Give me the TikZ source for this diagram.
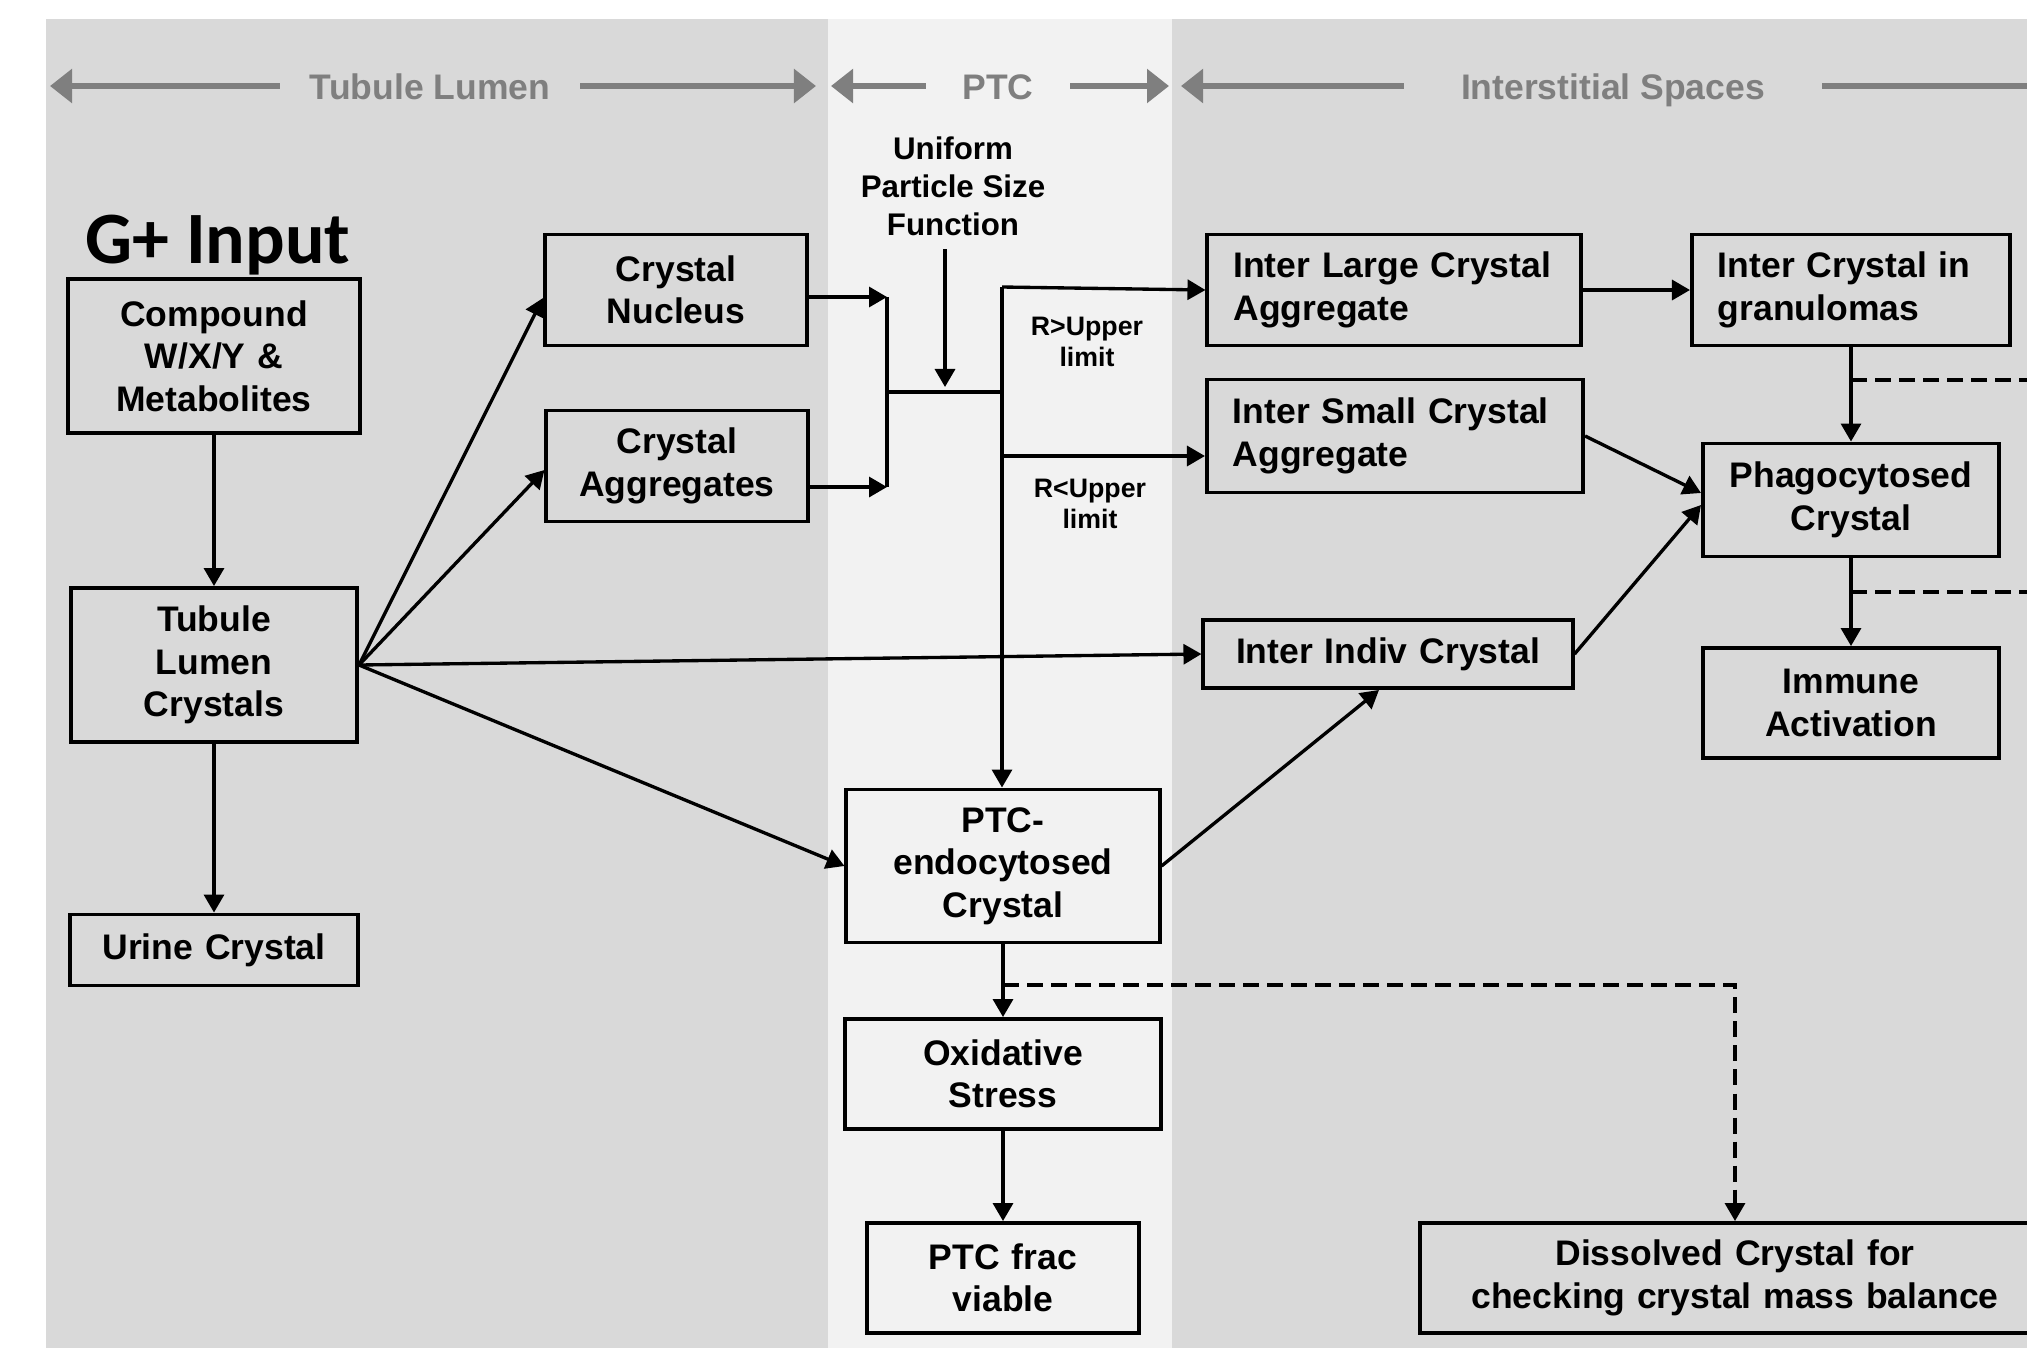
\documentclass[tikz,border=0pt]{standalone}
\usepackage{fontspec}
\setmainfont{Liberation Sans}
\newfontfamily\gfont{Carlito}
\usetikzlibrary{arrows.meta}
\definecolor{bandgray}{HTML}{D9D9D9}
\definecolor{ptcgray}{HTML}{F2F2F2}
\definecolor{hdrgray}{HTML}{7F7F7F}
\begin{document}
\begin{tikzpicture}[x=0.01cm, y=-0.01cm,
  font=\fontsize{10.1}{12.1}\selectfont\bfseries,
  box/.style={draw, line width=1.1pt, inner sep=0pt, align=center},
  boxl/.style={box, align=left, inner xsep=0.26cm},
  wire/.style={line width=0.95pt},
  flow/.style={wire, -{Triangle[length=1.8mm, width=2mm]}},
  dwire/.style={wire, dash pattern=on 1.6mm off 0.8mm},
  dflow/.style={dwire, -{Triangle[length=1.8mm, width=2mm]}},
  hdr/.style={text=hdrgray, inner ysep=0pt, text height=0.3cm, text depth=0.04cm},
  harr/.style={draw=hdrgray, line width=1.7pt, -{Triangle[length=2.2mm, width=3.3mm]}},
  cond/.style={font=\fontsize{7.6}{9}\selectfont\bfseries, align=center}]
  % page and compartments
  \clip (0,0) rectangle (2027,1348);
  \fill[white] (0,0) rectangle (2027,1348);
  \fill[bandgray] (46,19) rectangle (828,1348);
  \fill[ptcgray] (828,19) rectangle (1172,1348);
  \fill[bandgray] (1172,19) rectangle (2027,1348);
  % compartment headers
  \node[hdr, inner xsep=0.295cm] (tlhdr) at (430,86) {Tubule Lumen};
  \node[hdr, inner xsep=0.36cm] (ptchdr) at (998,86) {PTC};
  \node[hdr, inner xsep=0.565cm] (ishdr) at (1613,86) {Interstitial Spaces};
  \coordinate (tlL) at (50,86);   \coordinate (tlR) at (816,86);
  \coordinate (ptcL) at (831,86); \coordinate (ptcR) at (1169,86);
  \coordinate (isL) at (1181,86); \coordinate (isR) at (2070,86);
  \draw[harr] (tlhdr) -- (tlL);  \draw[harr] (tlhdr) -- (tlR);
  \draw[harr] (ptchdr) -- (ptcL); \draw[harr] (ptchdr) -- (ptcR);
  \draw[harr] (ishdr) -- (isL);  \draw[harr] (ishdr) -- (isR);
  % tubule lumen
  \node[anchor=base west, inner sep=0pt, font=\gfont\fontsize{21}{25}\selectfont\bfseries] (gin) at (85,263) {G+ Input};
  \node[box, text width=2.92cm, minimum height=1.54cm] (cmp) at (214,356) {Compound\\W/X/Y \&\\Metabolites};
  \node[box, text width=2.86cm, minimum height=1.54cm] (tlc) at (214,665) {Tubule\\Lumen\\Crystals};
  \node[box, text width=2.88cm, minimum height=0.71cm] (urine) at (214,950) {Urine Crystal};
  \node[box, text width=2.62cm, minimum height=1.11cm] (nuc) at (676,290) {Crystal\\Nucleus};
  \node[box, text width=2.61cm, minimum height=1.11cm] (agg) at (677,466) {Crystal\\Aggregates};
  % PTC
  \node[font=\fontsize{8.9}{10.8}\selectfont\bfseries, align=center] (upsf) at (953,186) {Uniform\\Particle Size\\Function};
  \node[cond] (rgt) at (1087,342) {R>Upper\\limit};
  \node[cond] (rlt) at (1090,504) {R<Upper\\limit};
  \node[box, text width=3.13cm, minimum height=1.53cm] (endo) at (1003,866) {PTC-\\endocytosed\\Crystal};
  \node[box, text width=3.16cm, minimum height=1.10cm] (oxi) at (1003,1074) {Oxidative\\Stress};
  \node[box, text width=2.71cm, minimum height=1.10cm] (frac) at (1003,1278) {PTC frac\\viable};
  % interstitial spaces
  \node[boxl, text width=3.21cm, minimum height=1.11cm] (large) at (1394,290) {Inter Large Crystal\\Aggregate};
  \node[boxl, text width=2.66cm, minimum height=1.11cm] (gran) at (1851,290) {Inter Crystal in\\granulomas};
  \node[boxl, text width=3.24cm, minimum height=1.13cm] (small) at (1395,436) {Inter Small Crystal\\Aggregate};
  \node[box, text width=2.96cm, minimum height=1.13cm] (phag) at (1851,500) {Phagocytosed\\Crystal};
  \node[box, text width=2.96cm, minimum height=1.10cm] (immune) at (1851,703) {Immune\\Activation};
  \node[box, text width=3.69cm, minimum height=0.68cm] (indiv) at (1388,654) {Inter Indiv Crystal};
  \node[box, text width=6.30cm, minimum height=1.10cm] (diss) at (1735,1278) {Dissolved Crystal for\\checking crystal mass balance};
  % lumen flows
  \draw[flow] (cmp) -- (tlc);
  \draw[flow] (tlc) -- (urine);
  \draw[flow] (tlc.east) -- ([yshift=-0.08cm]nuc.west);
  \draw[flow] (tlc.east) -- ([yshift=-0.04cm]agg.west);
  \draw[flow] (tlc.east) -- (indiv.west);
  \draw[flow] (tlc.east) -- (endo.west);
  % size split
  \coordinate (bt) at (887,297); \coordinate (bb) at (887,487);
  \coordinate (bm) at (887,392); \coordinate (sp) at (1002,392);
  \coordinate (ua) at (945,249);
  \coordinate (vt) at (1002,287); \coordinate (vb) at (1002,456);
  \draw[flow] (nuc.east|-bt) -- (bt);
  \draw[flow] (agg.east|-bb) -- (bb);
  \draw[wire] (bt) -- (bb);
  \draw[wire] (bm) -- (sp);
  \draw[flow, shorten >=0.05cm] (ua) -- (ua|-sp);
  \draw[flow] (vt) -- (vt|-endo.north);
  \draw[flow] (vt) -- (large.west);
  \draw[flow] (vb) -- (small.west|-vb);
  % interstitial flows
  \draw[flow] (large) -- (gran);
  \draw[flow] (gran) -- (phag);
  \draw[flow] (small.east) -- ([yshift=0.07cm]phag.west);
  \draw[flow] (indiv.east) -- ([yshift=-0.05cm]phag.west);
  \draw[flow] (phag) -- (immune);
  \draw[flow] (endo.east) -- ([xshift=-0.09cm]indiv.south);
  \draw[flow] (endo) -- (oxi);
  \draw[flow] (oxi) -- (frac);
  % dissolved crystal links
  \coordinate (dj) at (1003,985);
  \coordinate (g1) at (1851,380); \coordinate (g1e) at (2040,380);
  \coordinate (g2) at (1851,592); \coordinate (g2e) at (2040,592);
  \draw[dflow] (dj) -| (diss.north);
  \draw[dwire] (g1) -- (g1e);
  \draw[dwire] (g2) -- (g2e);
\end{tikzpicture}
\end{document}
